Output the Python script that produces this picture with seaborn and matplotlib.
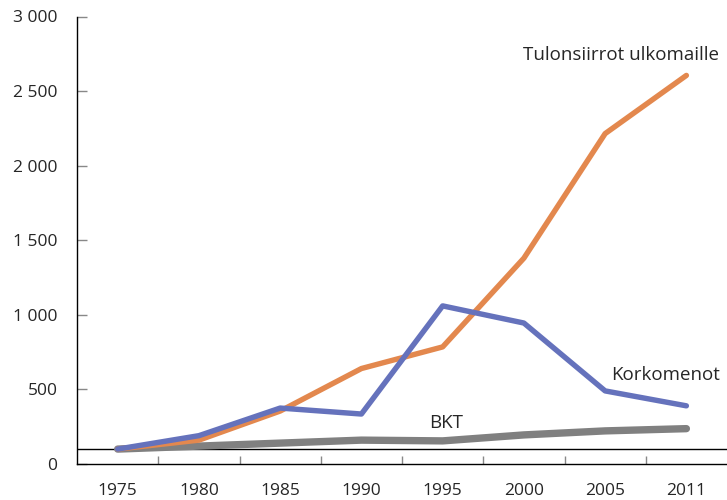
import pandas as pd
import matplotlib.pyplot as plt
import seaborn as sns
from matplotlib.ticker import FuncFormatter

years = ['1975', '1980', '1985', '1990', '1995', '2000', '2005', '2011']
tulonsiirrot = [100, 160, 355, 640, 785, 1380, 2215, 2605]
korkomenot = [100, 190, 375, 335, 1060, 945, 490, 390]
bkt = [100, 120, 140, 160, 155, 195, 222, 237]

series = ['Tulonsiirrot ulkomaille', 'Korkomenot', 'BKT']
colors = {'Tulonsiirrot ulkomaille': '#E3884E', 'Korkomenot': '#6572BC', 'BKT': '#808080'}
widths = {'Tulonsiirrot ulkomaille': 3.9, 'Korkomenot': 3.9, 'BKT': 5.3}

rows = []
for name, vals in zip(series, [tulonsiirrot, korkomenot, bkt]):
    for i, (y, v) in enumerate(zip(years, vals)):
        rows.append({'pos': i, 'year': y, 'value': v, 'series': name})
df = pd.DataFrame(rows)

sns.set_style('white')
plt.rcParams['font.family'] = ['Open Sans', 'DejaVu Sans']

fig = plt.figure(figsize=(7.27, 5), dpi=100)
ax = fig.add_axes([0.106, 0.072, 0.894, 0.895])

# BKT first so it sits underneath
for name in ['BKT', 'Tulonsiirrot ulkomaille', 'Korkomenot']:
    sns.lineplot(data=df[df['series'] == name], x='pos', y='value', ax=ax,
                 color=colors[name], linewidth=widths[name],
                 solid_capstyle='round', legend=False)

ax.axhline(100, color='black', linewidth=1, zorder=1)

ax.set_xlim(-0.5, 7.5)
ax.set_ylim(0, 3000)
ax.set_xticks(range(len(years)))
ax.set_xticklabels(years)
ax.set_xticks([i + 0.5 for i in range(len(years) - 1)], minor=True)
ax.set_yticks(range(0, 3001, 500))
ax.yaxis.set_major_formatter(FuncFormatter(lambda v, p: f'{int(v):,}'.replace(',', ' ')))

ax.tick_params(axis='x', which='major', length=0, labelsize=12.5, pad=14)
ax.tick_params(axis='x', which='minor', direction='in', length=6, color='#888888',
               width=1, bottom=True)
ax.tick_params(axis='y', direction='in', length=7, color='#888888', width=1,
               labelsize=12.5, pad=14, left=True)

for s in ['top', 'right']:
    ax.spines[s].set_visible(False)
for s in ['left', 'bottom']:
    ax.spines[s].set_color('black')
    ax.spines[s].set_linewidth(1)

ax.set_xlabel('')
ax.set_ylabel('')

ax.text(6.2, 2741, 'Tulonsiirrot ulkomaille', fontsize=13.5, ha='center', va='center')
ax.text(6.74, 596, 'Korkomenot', fontsize=13.5, ha='center', va='center')
ax.text(4.04, 275, 'BKT', fontsize=13.5, ha='center', va='center')

fig.savefig('out.png', dpi=100)
